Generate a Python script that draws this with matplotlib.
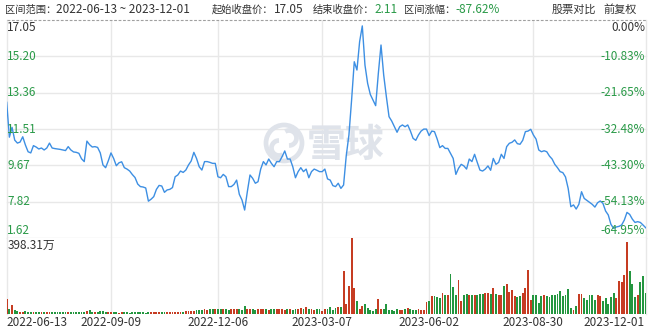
import numpy as np
import matplotlib.pyplot as plt
from matplotlib.patches import Circle, Arc
from matplotlib.transforms import IdentityTransform, blended_transform_factory

plt.rcParams['font.family'] = ['Noto Sans CJK SC', 'DejaVu Sans']

# close price (前复权), one point per bar
price = [12.87, 11.10, 11.60, 10.95, 10.80, 10.85, 11.12, 10.70, 10.36, 10.30,
         10.67, 10.60, 10.50, 10.55, 10.45, 10.55, 10.80, 10.55, 10.52, 10.50,
         10.48, 10.45, 10.42, 10.62, 10.45, 10.35, 10.33, 10.28, 10.00, 9.86,
         10.90, 10.72, 10.60, 10.62, 10.58, 10.30, 9.69, 9.55, 9.90, 10.30,
         10.02, 9.65, 9.80, 9.85, 9.55, 9.48, 9.38, 9.20, 9.05, 8.72,
         8.59, 8.57, 8.52, 7.85, 7.95, 8.08, 8.45, 8.65, 8.62, 8.30,
         8.42, 8.45, 8.54, 9.09, 9.18, 9.38, 9.31, 9.43, 9.69, 9.89,
         10.33, 10.02, 9.60, 9.43, 9.86, 9.86, 9.82, 9.77, 9.77, 9.09,
         9.04, 9.21, 9.09, 8.59, 8.59, 8.70, 8.92, 8.20, 7.91, 7.40,
         8.33, 9.18, 9.01, 8.76, 8.84, 9.48, 9.86, 9.69, 9.99, 9.77,
         9.60, 9.86, 9.86, 10.11, 10.40, 9.99, 9.99, 9.60, 9.04, 9.35,
         9.55, 9.35, 9.48, 9.04, 9.35, 9.48, 9.42, 9.35, 9.35, 9.48,
         8.98, 8.92, 8.64, 8.59, 8.76, 8.50, 8.67, 10.16, 11.21, 12.99,
         14.93, 14.51, 15.95, 16.75, 14.76, 13.83, 13.27, 12.99, 12.70, 14.34,
         15.78, 14.26, 13.16, 12.14, 11.92, 11.63, 11.35, 11.63, 11.72, 11.63,
         11.72, 11.41, 11.04, 10.94, 11.21, 11.41, 11.51, 11.51, 11.18, 11.41,
         11.38, 11.01, 10.57, 10.67, 10.53, 10.53, 10.28, 10.02, 9.21, 9.52,
         9.72, 9.64, 9.48, 9.99, 9.86, 10.23, 9.82, 9.43, 9.38, 9.48,
         9.64, 9.42, 10.02, 9.72, 9.82, 10.23, 10.02, 10.62, 10.79, 10.84,
         10.96, 10.77, 10.74, 10.94, 11.38, 11.41, 11.50, 11.21, 11.00, 10.45,
         10.36, 10.41, 10.36, 10.14, 9.99, 9.72, 9.55, 9.35, 9.30, 9.08,
         8.50, 7.57, 7.66, 7.45, 7.69, 8.33, 7.99, 7.89, 7.79, 7.69,
         7.55, 7.77, 7.86, 7.74, 7.35, 7.15, 6.67, 6.47, 6.54, 6.57,
         6.64, 6.89, 7.28, 7.18, 6.94, 6.77, 6.81, 6.77, 6.64, 6.50]

# volume in 万
volume = [79, 25, 45, 20, 15, 12, 10, 14, 10, 12,
          9, 10, 8, 11, 9, 10, 8, 10, 9, 11,
          10, 9, 11, 10, 9, 10, 12, 9, 10, 11,
          15, 22, 12, 10, 11, 14, 15, 12, 9, 8,
          8, 9, 7, 8, 9, 8, 7, 8, 9, 8,
          9, 8, 7, 8, 9, 8, 9, 10, 8, 9,
          9, 10, 9, 10, 11, 10, 12, 15, 16, 18,
          17, 20, 22, 19, 24, 22, 26, 24, 27, 25,
          28, 24, 26, 22, 27, 25, 24, 28, 23, 40,
          26, 24, 27, 22, 25, 28, 24, 26, 23, 27,
          25, 28, 24, 26, 22, 27, 25, 23, 26, 28,
          30, 26, 35, 24, 27, 22, 26, 25, 18, 24,
          26, 35, 22, 30, 35, 36, 227, 50, 145, 398.31,
          134, 70, 28, 40, 53, 30, 22, 18, 26, 81,
          28, 24, 55, 22, 20, 18, 24, 20, 22, 25,
          32, 24, 20, 22, 24, 20, 22, 63, 70, 93,
          93, 88, 84, 110, 102, 102, 210, 140, 102, 176,
          70, 102, 106, 102, 98, 98, 102, 106, 106, 108,
          110, 106, 138, 106, 97, 97, 146, 155, 117, 127,
          93, 88, 93, 110, 138, 230, 74, 97, 98, 58,
          95, 102, 93, 88, 98, 102, 106, 122, 93, 97,
          133, 30, 23, 40, 106, 106, 84, 75, 102, 98,
          75, 102, 93, 67, 84, 50, 88, 110, 84, 174,
          170, 205, 377, 223, 159, 88, 98, 170, 200, 110]

price_ticks = [17.05, 15.20, 13.36, 11.51, 9.67, 7.82, 5.98]
price_labels = ['17.05', '15.20', '13.36', '11.51', '9.67', '7.82', '1.62']
pct_labels = ['0.00%', '-10.83%', '-21.65%', '-32.48%', '-43.30%', '-54.13%', '-64.95%']
date_pos = [0, 39, 79, 118, 158, 197, 239]
date_labels = ['2022-06-13', '2022-09-09', '2022-12-06', '2023-03-07',
               '2023-06-02', '2023-08-30', '2023-12-01']
vol_max = 398.31

blue = '#3d8fe3'
green = '#2a9a48'
red = '#c63c22'
vgreen = '#23963f'
grey = '#333333'
gridc = '#e8e8e8'

W, H = 649, 334
fig = plt.figure(figsize=(W / 100, H / 100), dpi=100)


def box(l, t, r, b):
    return [l / W, 1 - b / H, (r - l) / W, (b - t) / H]


ax = fig.add_axes(box(6.7, 20, 645.7, 238))
axv = fig.add_axes(box(6.7, 238, 645.7, 314))
x = np.arange(len(price))

for a in (ax, axv):
    a.set_xlim(0, len(price) - 1)
    a.set_xticks([])
    a.set_yticks([])
    for s in a.spines.values():
        s.set_visible(False)
    for p in date_pos[1:-1]:
        a.axvline(p, color=gridc, lw=1, zorder=0)
    a.axvline(0, color=gridc, lw=1, zorder=0, clip_on=False)
    a.axvline(len(price) - 1, color=gridc, lw=1, zorder=0, clip_on=False)

# price panel
ax.set_ylim(price_ticks[-1], price_ticks[0])
for v in price_ticks[1:]:
    ax.axhline(v, color=gridc, lw=1, zorder=0, clip_on=False)
ax.axhline(price_ticks[0], color='#a0a0a0', lw=0.8, ls=(0, (2.5, 1.5)), clip_on=False)
ax.plot(x, price, color=blue, lw=1.0, zorder=3)

tr = blended_transform_factory(ax.transAxes, ax.transData)
n = len(price_ticks)
for i, (v, lab, pl) in enumerate(zip(price_ticks, price_labels, pct_labels)):
    va = 'top' if i == 0 else ('bottom' if i == n - 1 else 'center')
    c = grey if i == 0 else green
    off = -0.06 if i == 0 else (0.06 if i == n - 1 else 0)
    ax.text(0.001, v + off, lab, transform=tr, ha='left', va=va, color=c, fontsize=8.5, zorder=4)
    ax.text(0.999, v + off, pl, transform=tr, ha='right', va=va, color=c, fontsize=8.5, zorder=4)

# watermark
idt = IdentityTransform()
wm = '#dfe3ea'
ax.add_patch(Circle((284, H - 143), 18, transform=idt, fill=False, ec=wm, lw=3.4, zorder=1))
ax.add_patch(Arc((279, H - 148), 15, 15, angle=0, theta1=90, theta2=300, transform=idt,
                 ec=wm, lw=3.4, zorder=1))
ax.add_patch(Arc((289, H - 138), 15, 15, angle=0, theta1=270, theta2=120, transform=idt,
                 ec=wm, lw=3.4, zorder=1))
ax.text(346, H - 145, '雪球', transform=idt, ha='center', va='center', fontsize=28,
        fontweight='bold', color=wm, zorder=1)

# volume panel
axv.set_ylim(0, vol_max)
up = np.diff(price, prepend=price[0]) >= 0
cols = [red if u else vgreen for u in up]
axv.bar(x, volume, width=0.7, color=cols, zorder=2)
axv.text(0.001, vol_max - 4, '398.31万', transform=blended_transform_factory(axv.transAxes, axv.transData),
         ha='left', va='top', color=grey, fontsize=8.5, zorder=4)

# date labels
for i, (p, lab) in enumerate(zip(date_pos, date_labels)):
    px = 6.7 + p * 639 / (len(price) - 1)
    ha = 'left' if i == 0 else ('right' if i == len(date_pos) - 1 else 'center')
    if i == len(date_pos) - 1:
        px -= 1
    fig.text(px / W, 1 - 322 / H, lab, ha=ha, va='center', color=grey, fontsize=8.5)

# header: CJK parts a bit smaller than the digits, chained along one baseline
r = fig.canvas.get_renderer()


def seg(x0, parts, y=13):
    for s, c, fs in parts:
        t = fig.text(x0 / W, 1 - y / H, s, color=c, fontsize=fs, va='baseline', ha='left')
        x0 = t.get_window_extent(r).x1


cj, dg = 7.4, 8.5
seg(5, [('区间范围：', grey, cj), ('2022-06-13 ~ 2023-12-01', grey, dg)])
seg(212, [('起始收盘价：', grey, cj), ('17.05', grey, dg)])
seg(313, [('结束收盘价：', grey, cj), ('2.11', green, dg)])
seg(404, [('区间涨幅：', grey, cj), ('-87.62%', green, dg)])
seg(552, [('股票对比', grey, 8.0)])
seg(603, [('前复权', grey, 8.0)])

fig.savefig('out.png', dpi=100)
